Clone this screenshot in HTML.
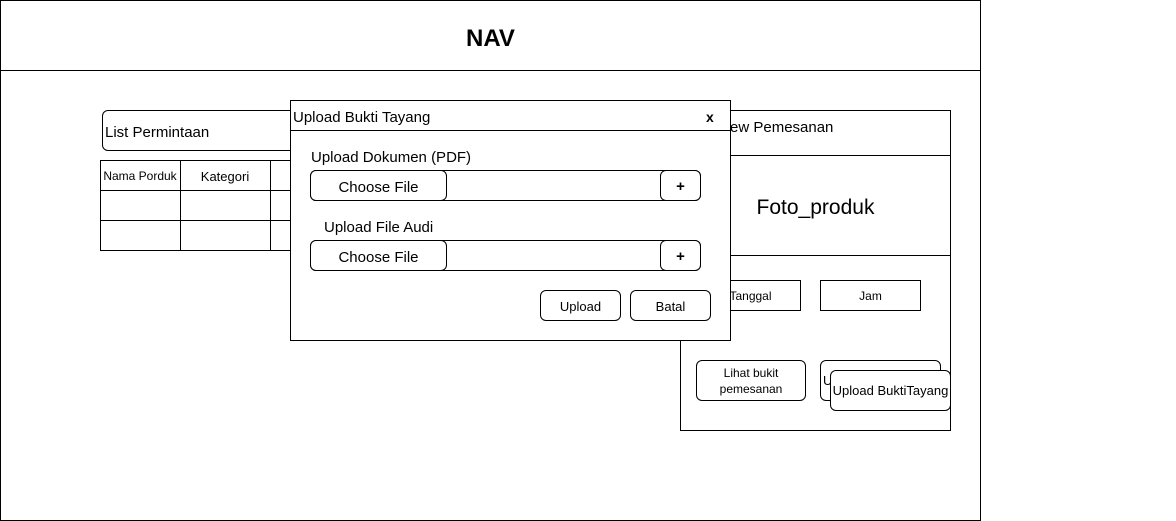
<!DOCTYPE html>
<html><head><style>
body{margin:0;width:1176px;height:521px;background:#fff;position:relative;font-family:"Liberation Sans",Arial,sans-serif;overflow:hidden}
div{position:absolute;box-sizing:border-box}
.b{border:1px solid #000;background:#fff}
.r{border-radius:6px}
.c{display:flex;align-items:center;justify-content:center;text-align:center}
</style></head><body>
<div class="b" style="left:0;top:0;width:981px;height:521px"></div>
<div style="left:0;top:70px;width:981px;height:1px;background:#000"></div>
<div class="c" style="left:0;top:19px;width:981px;height:40px;font-size:24px;font-weight:bold">NAV</div>

<div class="b r" style="left:102px;top:110px;width:220px;height:41px;font-size:15px;padding:13px 0 0 2px">List Permintaan</div>
<div class="b" style="left:100px;top:160px;width:220px;height:91px"></div>
<div style="left:100px;top:190px;width:220px;height:1px;background:#000"></div>
<div style="left:100px;top:220px;width:220px;height:1px;background:#000"></div>
<div style="left:180px;top:160px;width:1px;height:91px;background:#000"></div>
<div style="left:270px;top:160px;width:1px;height:91px;background:#000"></div>
<div class="c" style="left:100px;top:161px;width:80px;height:30px;font-size:12px">Nama Porduk</div>
<div class="c" style="left:180px;top:161px;width:90px;height:30px;font-size:13px">Kategori</div>

<div class="b" style="left:680px;top:110px;width:271px;height:321px"></div>
<div style="left:680px;top:155px;width:271px;height:1px;background:#000"></div>
<div style="left:680px;top:255px;width:271px;height:1px;background:#000"></div>
<div style="left:700px;top:119px;font-size:15px">Review Pemesanan</div>
<div class="c" style="left:680px;top:158px;width:271px;height:100px;font-size:21px">Foto_produk</div>
<div class="b c" style="left:700px;top:280px;width:101px;height:31px;font-size:12px">Tanggal</div>
<div class="b c" style="left:820px;top:280px;width:101px;height:31px;font-size:12px">Jam</div>
<div class="b r c" style="left:696px;top:360px;width:110px;height:41px;font-size:12px;line-height:16px">Lihat bukit<br>pemesanan</div>
<div class="b r" style="left:820px;top:360px;width:121px;height:41px;font-size:13px;padding:12px 0 0 2px">U</div>
<div class="b r c" style="left:830px;top:370px;width:121px;height:41px;font-size:13px">Upload BuktiTayang</div>

<div class="b" style="left:290px;top:100px;width:441px;height:241px"></div>
<div style="left:290px;top:130px;width:441px;height:1px;background:#000"></div>
<div style="left:293px;top:109px;font-size:15px">Upload Bukti Tayang</div>
<div style="left:706px;top:109px;font-size:14px;font-weight:bold">x</div>
<div style="left:311px;top:149px;font-size:15px">Upload Dokumen (PDF)</div>
<div class="b r" style="left:310px;top:170px;width:391px;height:31px"></div>
<div class="b r c" style="left:310px;top:170px;width:137px;height:31px;font-size:15px;padding-top:3px">Choose File</div>
<div class="b r c" style="left:660px;top:170px;width:41px;height:31px;font-size:15px;font-weight:bold;padding-top:1px">+</div>
<div style="left:324px;top:219px;font-size:15px">Upload File Audi</div>
<div class="b r" style="left:310px;top:240px;width:391px;height:31px"></div>
<div class="b r c" style="left:310px;top:240px;width:137px;height:31px;font-size:15px;padding-top:3px">Choose File</div>
<div class="b r c" style="left:660px;top:240px;width:41px;height:31px;font-size:15px;font-weight:bold;padding-top:1px">+</div>
<div class="b r c" style="left:540px;top:290px;width:81px;height:31px;font-size:13px;padding-top:2px">Upload</div>
<div class="b r c" style="left:630px;top:290px;width:81px;height:31px;font-size:13px;padding-top:2px">Batal</div>
</body></html>
